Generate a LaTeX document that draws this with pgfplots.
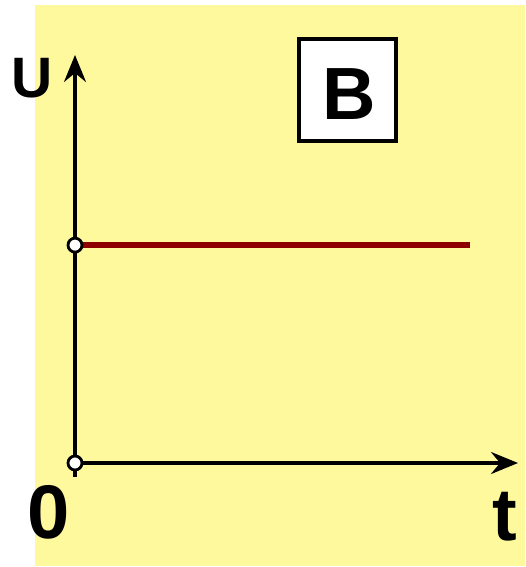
\documentclass[border=0pt]{standalone}
\usepackage{pgfplots}
\pgfplotsset{compat=1.18}
\usepackage{fontspec}
\setmainfont{Liberation Sans}
\usetikzlibrary{arrows.meta}
\definecolor{bgyellow}{RGB}{255,249,158}
\definecolor{linered}{RGB}{140,0,0}
\begin{document}
\begin{tikzpicture}
\fill[white] (0pt,0pt) rectangle (525pt,-567pt);
\fill[bgyellow] (35pt,-5pt) rectangle (525pt,-566pt);
\begin{axis}[
  at={(75pt,-463pt)}, anchor=origin,
  scale only axis, width=443pt, height=422pt,
  xmin=0, xmax=10, ymin=-0.343, ymax=10,
  axis lines=none,
  xtick=\empty, ytick=\empty,
  clip=false,
]
\draw[line width=3.5pt, -{Stealth[length=27pt,width=22pt,inset=9pt]}] (axis cs:0,-0.343) -- (axis cs:0,10);
\draw[line width=3.5pt, -{Stealth[length=27pt,width=22pt,inset=9pt]}] (axis cs:0,0) -- (axis cs:10,0);
\addplot[linered, line width=6pt, line cap=butt] coordinates {(0,5.34) (8.92,5.34)};
\addplot[only marks, mark=*, mark size=7pt, mark options={fill=white, draw=black, line width=2.8pt}] coordinates {(0,0) (0,5.34)};
\end{axis}
\node[font=\bfseries\fontsize{57}{57}\selectfont, anchor=base] at (32pt,-98pt) {U};
\node[font=\bfseries\fontsize{76}{76}\selectfont, anchor=base] at (49pt,-538pt) {0};
\node[font=\bfseries\fontsize{74}{74}\selectfont, anchor=base] at (505pt,-540pt) {t};
\node[draw=black, line width=4pt, fill=white, minimum width=97pt, minimum height=101pt, inner sep=0pt] at (347.5pt,-90pt) {};
\node[font=\bfseries\fontsize{74}{74}\selectfont, anchor=base] at (349pt,-120pt) {B};
\end{tikzpicture}
\end{document}
